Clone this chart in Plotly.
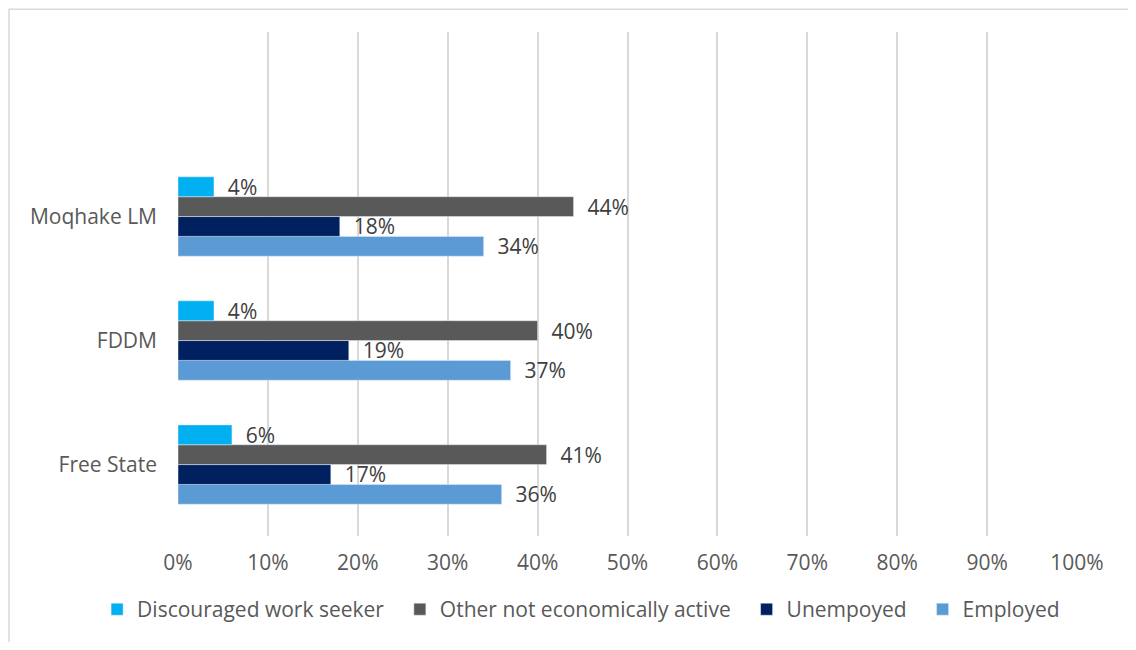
import plotly.graph_objects as go

regions = ["Free State", "FDDM", "Moqhake LM"]
employed = [36, 37, 34]
unemployed = [17, 19, 18]
other_nea = [41, 40, 44]
discouraged = [6, 4, 4]

series = [
    ("Employed", employed, "#5B9BD5", 4),
    ("Unempoyed", unemployed, "#002060", 3),
    ("Other not economically active", other_nea, "#595959", 2),
    ("Discouraged work seeker", discouraged, "#00B0F0", 1),
]

font_family = "Open Sans"
pad = "\u00a0" * 2  # extra room between legend entries

fig = go.Figure()
for name, vals, color, rank in series:
    fig.add_trace(go.Bar(
        y=[0, 1, 2], x=vals, name=name + pad, orientation="h",
        marker_color=color, legendrank=rank,
        text=["\u00a0\u00a0" + f"{v}%" for v in vals], textposition="outside",
        textfont=dict(size=21, color="#404040", family=font_family),
        constraintext="none", cliponaxis=False,
    ))

# page has an 8px body margin, so the figure is shrunk by 8px on each side
fig.update_layout(
    width=1120, height=634,
    margin=dict(l=170, r=51, t=24, b=102),
    barmode="group", bargap=0.36, bargroupgap=0,
    plot_bgcolor="white", paper_bgcolor="white",
    font=dict(family=font_family, size=21, color="#595959"),
    showlegend=True,
    legend=dict(orientation="h", x=-0.09, xanchor="left", y=-0.146, yanchor="middle",
                font=dict(size=21, color="#595959"), itemwidth=30),
    xaxis=dict(range=[0, 100], dtick=10, ticksuffix="%", showgrid=True,
               gridcolor="#D9D9D9", gridwidth=2, zeroline=False, showline=False,
               ticks="", ticklabelstandoff=12, tickfont=dict(size=21, color="#595959")),
    yaxis=dict(range=[-0.576, 3.488], tickvals=[0, 1, 2], ticktext=regions,
               showgrid=False, zeroline=False, showline=False, ticks="",
               ticklabelstandoff=20, tickfont=dict(size=21, color="#595959")),
    shapes=[dict(type="rect", xref="paper", yref="paper",
                 x0=-0.188, x1=1.07, y0=-0.25, y1=1.045,
                 line=dict(color="#D9D9D9", width=1.5), layer="below")],
)

fig.write_html("out.html")
